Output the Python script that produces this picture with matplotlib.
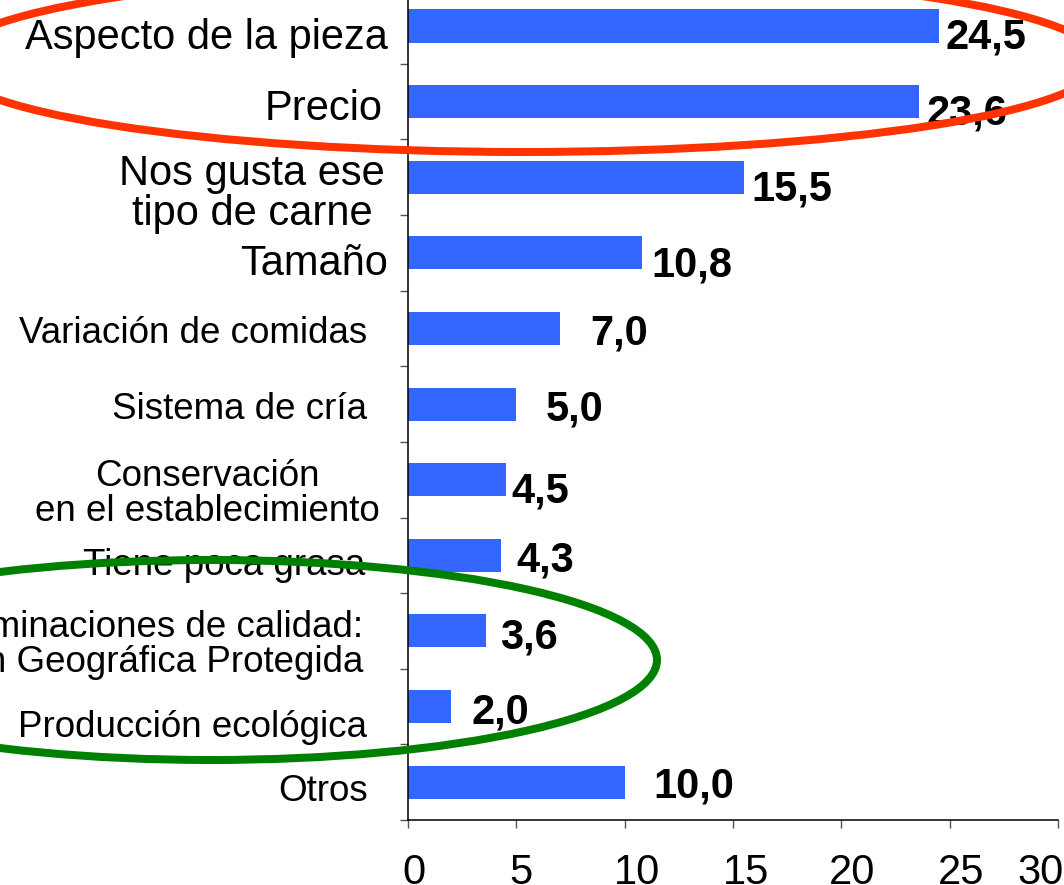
import matplotlib
matplotlib.use('Agg')

import matplotlib.pyplot as plt
import matplotlib.transforms as mtransforms
from matplotlib.patches import Ellipse

plt.rcParams['font.family'] = ['Liberation Sans', 'DejaVu Sans']

# data, top to bottom
categories = ['Aspecto de la pieza', 'Precio', 'Nos gusta ese\ntipo de carne', 'Tamaño',
              'Variación de comidas', 'Sistema de cría', 'Conservación\nen el establecimiento',
              'Tiene poca grasa', 'Denominaciones de calidad:\nIndicación Geográfica Protegida',
              'Producción ecológica', 'Otros']
values = [24.5, 23.6, 15.5, 10.8, 7.0, 5.0, 4.5, 4.3, 3.6, 2.0, 10.0]
xticks = [0, 5, 10, 15, 20, 25, 30]

# label styling (pixel offsets, sizes)
cat_size = [30, 30, 30, 30, 26.5, 26.5, 26.5, 26.5, 26.5, 26.5, 26.5]
cat_gap = [20, 25, 23, 20, 41, 41, 28, 43, 45, 41, 40]
cat_dy = [7.5, 3.5, 13, 7, 1, 1, 10, 6, 10, 17, 5]
cat_align = ['right', 'right', 'center', 'right', 'right', 'right', 'center',
             'right', 'right', 'right', 'right']
val_gap = [7, 7, 8, 9, 31, 29, 6, 15, 14, 20, 29]
val_dy = [7.5, 7.5, 8, 9, 1, 1.5, 8, 1, 2.5, 2, 0]
xtick_shift = [6, 4.5, 12, 13, 11, 11, -17]

W, H = 1064, 885
fig = plt.figure(figsize=(W / 100, H / 100), dpi=100)
ax = fig.add_axes([408 / W, (H - 820) / H, 650 / W, 831.8 / H])

ypos = list(range(len(categories)))
ax.barh(ypos, values, height=0.437, color='#3366FF', zorder=2)
ax.set_xlim(0, 30)
ax.set_ylim(len(categories) - 0.5, -0.5)

for sp in ['top', 'right']:
    ax.spines[sp].set_visible(False)
for sp in ['left', 'bottom']:
    ax.spines[sp].set_color('black')
    ax.spines[sp].set_linewidth(1.1)

# y: ticks at the boundaries, no labels there
ax.set_yticks([i - 0.5 for i in range(len(categories) + 1)])
ax.set_yticklabels([])
ax.tick_params(axis='y', length=8 * 0.72, width=1, color='#555555', direction='out')

ax.set_xticks(xticks)
ax.set_xticklabels([str(t) for t in xticks], fontsize=30)
ax.tick_params(axis='x', length=8 * 0.72, width=1, color='#555555', direction='out', pad=18)
for lab, sh in zip(ax.get_xticklabels(), xtick_shift):
    lab.set_transform(lab.get_transform() + mtransforms.ScaledTranslation(sh / 100, 0, fig.dpi_scale_trans))

for i, lab in enumerate(categories):
    ax.annotate(lab, xy=(0, i), xycoords=('axes fraction', 'data'),
                xytext=(-cat_gap[i], -cat_dy[i] - 4), textcoords='offset pixels',
                ha='right', va='center', multialignment=cat_align[i],
                fontsize=cat_size[i], linespacing=1.0, annotation_clip=False)

for i, v in enumerate(values):
    ax.annotate(f'{v:.1f}'.replace('.', ','), xy=(v, i), xycoords='data',
                xytext=(val_gap[i], -val_dy[i] - 15), textcoords='offset pixels',
                ha='left', va='baseline', fontsize=30, fontweight='bold')


def px_ellipse(cx, cy, w, h, color):
    e = Ellipse((cx / W, 1 - cy / H), w / W, h / H, transform=fig.transFigure,
                fill=False, edgecolor=color, linewidth=8 * 0.72, zorder=5)
    fig.add_artist(e)


px_ellipse(523, 61.5, 1156, 181, '#FF3300')
px_ellipse(211, 660, 892, 200, '#008000')

fig.savefig('out.png', dpi=100)
